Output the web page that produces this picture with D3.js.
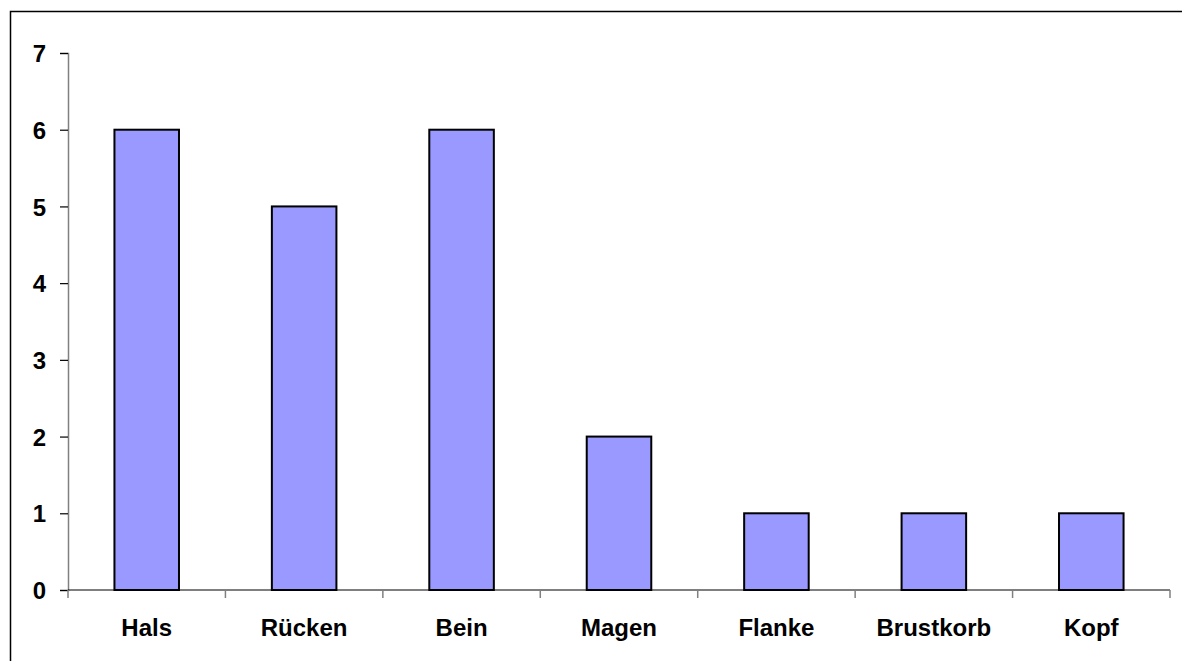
<!DOCTYPE html>
<html>
<head>
<meta charset="utf-8">
<script src="https://cdn.jsdelivr.net/npm/d3@7"></script>
<style>
  body { margin: 0; background: #fff; }
  text { font-family: "Liberation Sans", Arial, sans-serif; font-weight: bold; fill: #000; }
</style>
</head>
<body>
<div id="chart"></div>
<script>
// categories and counts
var categories = ["Hals", "Rücken", "Bein", "Magen", "Flanke", "Brustkorb", "Kopf"];
var counts = [6, 5, 6, 2, 1, 1, 1];
var yTicks = [0, 1, 2, 3, 4, 5, 6, 7];

var W = 1182, H = 661;
var margin = { top: 53, right: 12, bottom: 71, left: 68 },
    width = W - margin.left - margin.right,
    height = H - margin.top - margin.bottom;

var svg = d3.select("#chart").append("svg")
    .attr("width", W)
    .attr("height", H);

// outer frame (runs off the right and bottom edges)
svg.append("rect")
    .attr("x", 10.5).attr("y", 11.5)
    .attr("width", W + 20).attr("height", H + 20)
    .attr("fill", "none")
    .attr("stroke", "#000")
    .attr("stroke-width", 1.5);

var g = svg.append("g")
    .attr("transform", "translate(" + margin.left + "," + margin.top + ")");

var X = d3.scaleBand()
    .domain(categories)
    .range([0, width])
    .paddingInner(0.59)
    .paddingOuter(0.295);

var Y = d3.scaleLinear()
    .domain([0, 7])
    .range([height, 0]);

// bars
g.selectAll("rect.bar")
    .data(counts)
    .enter().append("rect")
    .attr("class", "bar")
    .attr("x", function(d, i) { return X(categories[i]); })
    .attr("y", function(d) { return Y(d); })
    .attr("width", X.bandwidth())
    .attr("height", function(d) { return Y(0) - Y(d); })
    .attr("fill", "#9999FF")
    .attr("stroke", "#000")
    .attr("stroke-width", 2);

// y axis
var yAxis = g.append("g")
    .call(d3.axisLeft(Y).tickValues(yTicks).tickSize(8).tickPadding(14).tickFormat(d3.format("d")));
yAxis.select(".domain").attr("stroke", "#808080").attr("stroke-width", 1.5);
yAxis.selectAll(".tick line").attr("stroke", "#000").attr("stroke-width", 1.2);
yAxis.selectAll("text").style("font-size", "24px").attr("dy", "0.36em");

// x axis with ticks on category boundaries
var step = width / categories.length;
var xb = g.append("g").attr("transform", "translate(0," + height + ")");
xb.append("line")
    .attr("x1", 0).attr("x2", width)
    .attr("stroke", "#000").attr("stroke-width", 1.2);
xb.selectAll("line.tk")
    .data(d3.range(categories.length + 1))
    .enter().append("line")
    .attr("class", "tk")
    .attr("x1", function(d) { return d * step; })
    .attr("x2", function(d) { return d * step; })
    .attr("y1", 0).attr("y2", 8)
    .attr("stroke", "#808080").attr("stroke-width", 1.5);
xb.selectAll("text")
    .data(categories)
    .enter().append("text")
    .attr("x", function(d) { return X(d) + X.bandwidth() / 2; })
    .attr("y", 46)
    .attr("text-anchor", "middle")
    .style("font-size", "24px")
    .text(function(d) { return d; });
</script>
</body>
</html>
